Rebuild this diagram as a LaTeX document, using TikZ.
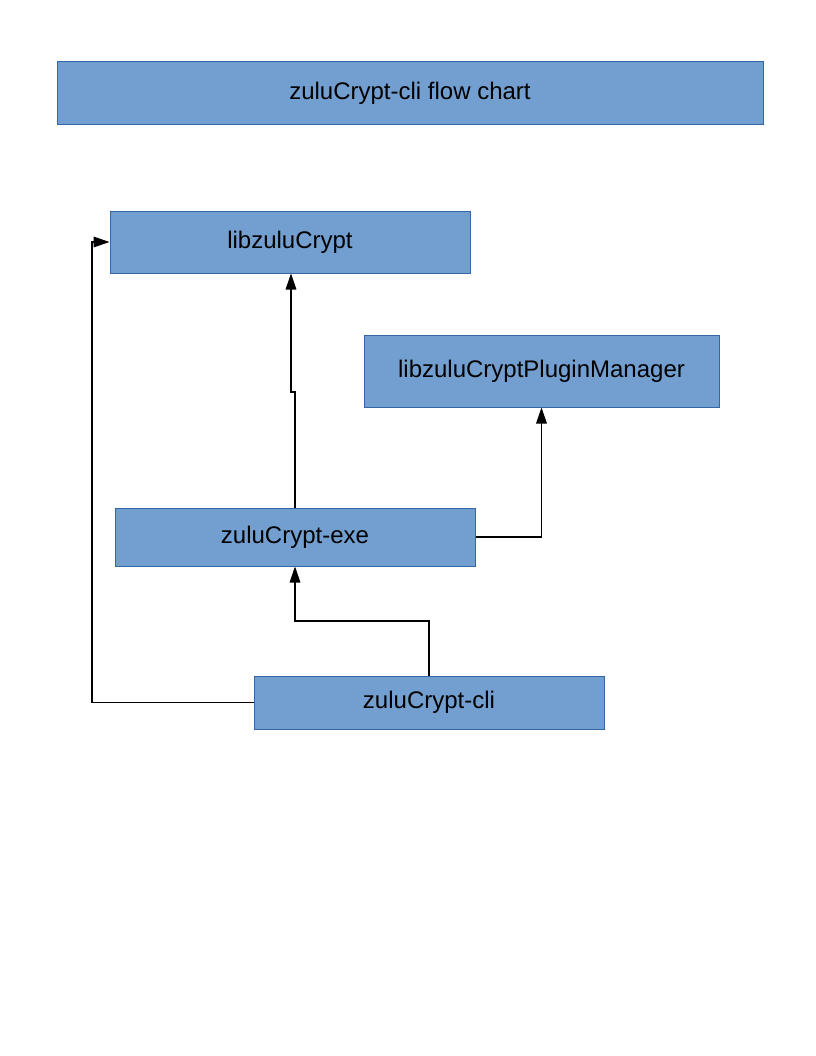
\documentclass[tikz,border=0pt]{standalone}
\usepackage{fontspec}
\setmainfont{Liberation Sans}
\usepackage{tikz}
\definecolor{boxblue}{RGB}{114,159,207}
\definecolor{edgeblue}{RGB}{52,101,164}
\usetikzlibrary{arrows.meta}
\pgfdeclarelayer{edgelayer}
\pgfdeclarelayer{nodelayer}
\pgfsetlayers{edgelayer,nodelayer,main}
\tikzstyle{box}=[rectangle,fill=boxblue,draw=edgeblue,line width=0.75pt,inner sep=0pt,font=\fontsize{18}{22}\selectfont]
\tikzstyle{link}=[-{Triangle[length=12pt,width=8pt]},line width=0.8pt]

\begin{document}
\begin{tikzpicture}[x=0.75pt,y=-0.75pt]
        \useasboundingbox (0,0) rectangle (816,1056);
        \begin{pgfonlayer}{nodelayer}
            \node [style = box, minimum width=706*0.75pt, minimum height=62*0.75pt] (title) at (410, 93) {zuluCrypt-cli flow chart};
            \node [style = box, minimum width=360*0.75pt, minimum height=62*0.75pt] (lib) at (290, 242) {libzuluCrypt};
            \node [style = box, minimum width=355*0.75pt, minimum height=72*0.75pt] (plugin) at (541.5, 371) {libzuluCryptPluginManager};
            \node [style = box, minimum width=360*0.75pt, minimum height=58*0.75pt] (exe) at (295, 537) {zuluCrypt-exe};
            \node [style = box, minimum width=350*0.75pt, minimum height=53*0.75pt] (cli) at (429, 702.5) {zuluCrypt-cli};
            \coordinate (jog) at (295, 392);
        \end{pgfonlayer}

        \begin{pgfonlayer}{edgelayer}
            \draw [style = link] (exe.north) -- (jog) -- ++(-4, 0) -- (lib.south -| 291, 0);
            \draw [style = link] (exe.east) -| (plugin.south);
            \draw [style = link] (cli.north) |- (295, 621) -- (exe.south);
            \draw [style = link] (cli.west) -| (lib.west -| 92, 0) -- (lib.west);
        \end{pgfonlayer}
    \end{tikzpicture}
\end{document}
